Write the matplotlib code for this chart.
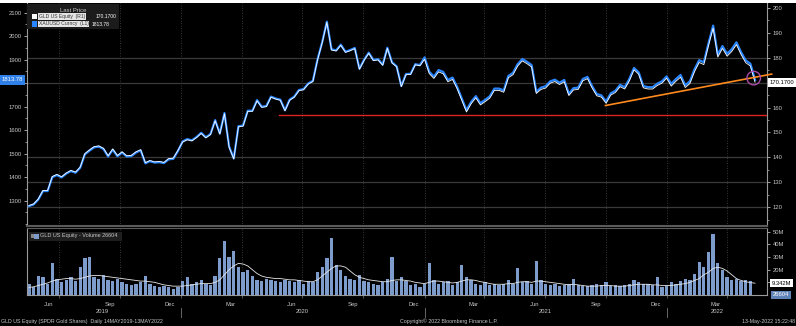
import numpy as np
import pandas as pd
import matplotlib
matplotlib.use('Agg')
import matplotlib.pyplot as plt
import matplotlib.dates as mdates
from matplotlib.patches import Rectangle
from matplotlib.ticker import MultipleLocator
from matplotlib.transforms import blended_transform_factory

plt.rcParams['font.family'] = ['Liberation Sans', 'DejaVu Sans']

# weekly (Friday) closes, XAUUSD spot
gold_2019 = [1277, 1284, 1305, 1341, 1341, 1400, 1409, 1399, 1415, 1426, 1419, 1440, 1497,
             1513, 1527, 1530, 1520, 1488, 1517, 1489, 1505, 1488, 1490, 1505, 1514, 1459,
             1468, 1462, 1464, 1460, 1476, 1478, 1511]
gold_2020 = [1552, 1562, 1557, 1571, 1589, 1570, 1584, 1643, 1586, 1673, 1530, 1480, 1617,
             1620, 1683, 1683, 1728, 1700, 1703, 1743, 1735, 1730, 1685, 1730, 1743, 1771,
             1775, 1799, 1810, 1902, 1975, 2062, 1944, 1940, 1964, 1934, 1941, 1950, 1862,
             1900, 1930, 1899, 1902, 1879, 1951, 1889, 1872, 1788, 1839, 1840, 1881, 1877]
gold_2021 = [1910, 1849, 1828, 1856, 1848, 1814, 1824, 1784, 1734, 1685, 1720, 1745, 1715,
             1729, 1744, 1777, 1777, 1769, 1831, 1844, 1881, 1903, 1891, 1877, 1764, 1781,
             1787, 1808, 1815, 1802, 1814, 1755, 1779, 1781, 1818, 1827, 1787, 1754, 1748,
             1722, 1757, 1768, 1793, 1783, 1818, 1865, 1846, 1788, 1783, 1783, 1798, 1808, 1829]
gold_2022 = [1797, 1818, 1835, 1791, 1808, 1859, 1898, 1889, 1970, 2045, 1921, 1958, 1925,
             1945, 1974, 1932, 1897, 1883, 1813.78]

# weekly closes, GLD US Equity
gld_2019 = [120.70, 121.36, 123.35, 126.75, 126.75, 132.33, 133.18, 132.23, 133.75, 134.79,
            134.12, 136.11, 141.50, 143.01, 144.33, 144.61, 143.67, 140.65, 143.39, 140.74,
            142.25, 140.65, 140.83, 142.25, 143.10, 137.90, 138.76, 138.19, 138.38, 138.00,
            139.51, 139.70, 142.82]
gld_2020 = [146.14, 147.08, 146.61, 147.93, 149.62, 147.83, 149.15, 154.71, 149.34, 157.53,
            144.06, 139.36, 152.26, 152.54, 158.47, 158.47, 162.71, 160.07, 160.35, 164.12,
            163.37, 162.90, 158.66, 162.90, 164.12, 166.76, 167.13, 169.39, 170.43, 179.09,
            185.97, 194.16, 183.05, 182.67, 184.93, 182.10, 182.76, 183.61, 175.33, 178.90,
            181.73, 178.81, 179.09, 176.93, 183.71, 177.87, 176.27, 168.36, 173.16, 173.25,
            177.12, 176.74]
gld_2021 = [179.35, 173.62, 171.65, 174.28, 173.53, 170.33, 171.27, 167.52, 162.82, 158.22,
            161.51, 163.86, 161.04, 162.35, 163.76, 166.86, 166.86, 166.11, 171.93, 173.15,
            176.63, 178.69, 177.57, 176.25, 165.64, 167.24, 167.80, 169.77, 170.43, 169.21,
            170.33, 164.79, 167.05, 167.24, 170.71, 171.56, 167.80, 164.70, 164.14, 161.70,
            164.98, 166.02, 168.36, 167.42, 170.71, 175.12, 173.34, 167.89, 167.42, 167.42,
            168.83, 169.77, 171.74]
gld_2022 = [168.57, 170.55, 172.14, 168.01, 169.61, 174.40, 178.05, 177.21, 184.81, 191.84,
            180.21, 183.68, 180.58, 182.46, 185.18, 181.24, 177.96, 176.65, 170.17]

# GLD volume, millions of shares
vol_2019 = [9, 6, 15, 14, 9, 25, 13, 10, 12, 14, 11, 22, 29, 30, 14, 13, 16, 12, 11, 13, 10,
            9, 8, 9, 10, 15, 9, 7, 6, 7, 6, 5, 6]
vol_2020 = [11, 14, 9, 10, 12, 9, 8, 15, 29, 43, 30, 35, 22, 18, 20, 15, 12, 11, 13, 12, 11,
            10, 12, 11, 10, 12, 9, 11, 10, 18, 22, 29, 45, 24, 20, 15, 13, 12, 16, 11, 10, 9,
            8, 10, 13, 30, 11, 14, 11, 8, 9, 6]
vol_2021 = [9, 25, 12, 9, 10, 11, 8, 10, 24, 14, 12, 9, 8, 10, 8, 9, 8, 9, 12, 9, 21, 10, 11,
            9, 27, 12, 9, 8, 9, 7, 8, 9, 13, 8, 7, 7, 8, 9, 8, 10, 7, 8, 7, 8, 9, 12, 10, 9, 9,
            8, 14, 6, 7]
vol_2022 = [10, 9, 11, 13, 12, 17, 26, 22, 34, 48, 25, 20, 14, 12, 13, 11, 12, 11, 0.026604]

# volume moving average, millions
ma_2019 = [6, 6.5, 7.5, 8.5, 9.5, 11, 12, 12.5, 13, 13, 12.5, 13, 14, 15, 15.5, 15.5, 15, 14.5,
           14, 13.5, 13, 12.5, 12, 11.5, 11, 11, 10.5, 10, 9, 8, 7.5, 7, 7]
ma_2020 = [7, 7.5, 8, 8.5, 9, 9, 9, 10, 12, 16, 20, 23, 25, 24.5, 23, 20, 17, 15, 14, 13.5, 13,
           13, 12.5, 12, 12, 11.5, 11, 10.5, 10.5, 12, 15, 18, 21, 23, 23, 22, 19, 16, 14, 13,
           12, 11.5, 11, 10.5, 10.5, 11.5, 12, 12, 11.5, 11, 10, 9.5]
ma_2021 = [9, 10, 11, 11, 10.5, 10, 9.5, 10, 11, 12, 12, 11.5, 10.5, 10, 9, 8.5, 8.5, 8.5, 9, 9,
           10, 10.5, 10.5, 10, 11, 11, 10.5, 10, 9.5, 9, 8.5, 8, 8.5, 8, 7.5, 7, 7, 7, 7.5, 7.5,
           7.5, 7, 7, 7, 7.5, 8, 8.5, 8.5, 8.5, 8, 8, 7.5, 7.5]
ma_2022 = [7.5, 8, 8.5, 9, 10, 11.5, 13, 16, 18, 21, 22, 21, 19, 16, 13, 11.5, 10.5, 9.8, 9.342]

# drawn annotations (GLD scale)
support_level = 157.1
support_from = '2020-05-27'
trend_dates = ['2021-09-30', '2022-06-07']
trend_values = [160.8, 173.4]
circle_date = '2022-05-11'
circle_value = 171.8

# axis ticks; labels hidden behind the last-value tags are left blank
gld_ticks = [120, 130, 140, 150, 160, 170, 180, 190, 200]
gld_labels = ['120', '130', '140', '150', '160', '', '180', '190', '200']
gold_ticks = [1300, 1400, 1500, 1600, 1700, 1800, 1900, 2000, 2100]
gold_labels = ['1300', '1400', '1500', '1600', '1700', '', '1900', '2000', '2100']
vol_ticks = [10, 20, 30, 40, 50]
vol_labels = ['', '20M', '30M', '40M', '50M']

weeks = pd.date_range('2019-05-17', '2022-05-13', freq='W-FRI')
gold = np.array(gold_2019 + gold_2020 + gold_2021 + gold_2022)
gld = np.array(gld_2019 + gld_2020 + gld_2021 + gld_2022)
vol = np.array(vol_2019 + vol_2020 + vol_2021 + vol_2022)
vol_ma = np.array(ma_2019 + ma_2020 + ma_2021 + ma_2022)

BLUE = '#2a86ff'
TXT = '#c8c8c8'
W, H = 796, 326


def box(x0, y0, x1, y1):
    return [x0 / W, 1 - y1 / H, (x1 - x0) / W, (y1 - y0) / H]


fig = plt.figure(figsize=(W / 100, H / 100), dpi=100, facecolor='black')
fig.patches.append(Rectangle((0, 1 - 3 / H), 1, 3 / H, transform=fig.transFigure,
                             fc='white', ec='none'))

ax = fig.add_axes(box(27, 3, 767, 226), facecolor='black')   # GLD scale, grid
axg = ax.twinx()                                               # gold scale
axw = ax.twinx()                                               # GLD line on top
axv = fig.add_axes(box(27, 228, 767, 295), facecolor='black')

x_start, x_end = pd.Timestamp('2019-05-14'), pd.Timestamp('2022-05-31')
for a in (ax, axg, axw, axv):
    a.set_xlim(x_start, x_end)
    a.tick_params(axis='x', which='both', length=0, labelbottom=False)
ax.set_ylim(112.5, 201.9)
axw.set_ylim(112.5, 201.9)
axg.set_ylim(1192.3, 2141.3)
axv.set_ylim(0, 53)

# grid
quarters = pd.date_range('2019-07-01', '2022-04-01', freq='QS')
for d in quarters:
    for a in (ax, axv):
        a.axvline(d, color='#4a4a4a', lw=0.6, ls=(0, (1, 2)), zorder=0)
for v in [120, 130, 140, 170, 180]:
    ax.axhline(v, color='#3a3a3a', lw=0.9, zorder=0)

# price lines
axg.plot(weeks, gold, color=BLUE, lw=1.6, zorder=3)
axw.plot(weeks, gld, color='white', lw=0.6, zorder=3)

axw.plot([pd.Timestamp(support_from), x_end], [support_level, support_level],
         color='#e02222', lw=1.0, zorder=2)
axw.plot(pd.to_datetime(trend_dates), trend_values, color='#ff8a1e', lw=1.2,
         zorder=4, clip_on=False)
axw.scatter([pd.Timestamp(circle_date)], [circle_value], s=95, facecolors='none',
            edgecolors='#a84aa8', linewidths=1, zorder=5)

# y axes
ax.yaxis.tick_right()
ax.set_yticks(gld_ticks)
ax.set_yticklabels(gld_labels)
ax.yaxis.set_minor_locator(MultipleLocator(5))
axg.yaxis.tick_left()
axg.set_yticks(gold_ticks)
axg.set_yticklabels(gold_labels)
axg.yaxis.set_minor_locator(MultipleLocator(50))
for a in (ax, axg):
    a.tick_params(axis='y', which='major', length=2.5, width=0.6, color='#bbbbbb',
                  labelsize=4.2, labelcolor=TXT, pad=1.5)
    a.tick_params(axis='y', which='minor', length=1.2, width=0.5, color='#bbbbbb')
axw.set_yticks([])
for a in (axg, axw):
    for s in a.spines.values():
        s.set_visible(False)
ax.spines['top'].set_visible(False)
ax.spines['left'].set_color('#9a9a9a')
ax.spines['right'].set_color('#9a9a9a')
ax.spines['bottom'].set_color('#5a5a5a')
ax.spines['bottom'].set_linewidth(1.5)

# volume panel
axv.bar(weeks, vol, width=5, color='#7d9bcb', lw=0, zorder=2)
axv.plot(weeks, vol_ma, color='#e6e6e6', lw=0.6, zorder=3)
axv.yaxis.tick_right()
axv.set_yticks(vol_ticks)
axv.set_yticklabels(vol_labels)
axv.tick_params(axis='y', length=2.5, width=0.6, color='#bbbbbb', labelsize=4.2,
                labelcolor=TXT, pad=1.5)
axv.xaxis.set_major_locator(mdates.MonthLocator(bymonth=[3, 6, 9, 12], bymonthday=15))
axv.xaxis.set_major_formatter(mdates.DateFormatter('%b'))
axv.xaxis.set_minor_locator(mdates.MonthLocator(bymonth=[1, 4, 7, 10]))
axv.tick_params(axis='x', which='major', length=0, labelbottom=True, labelsize=4.2,
                labelcolor=TXT, pad=5)
axv.tick_params(axis='x', which='minor', length=2, width=0.5, color='#777777')
axv.spines['top'].set_color('#5a5a5a')
axv.spines['left'].set_color('#9a9a9a')
axv.spines['right'].set_color('#9a9a9a')
axv.spines['bottom'].set_color('#9a9a9a')

tv = blended_transform_factory(axv.transData, axv.transAxes)
for yr, mid in [('2019', '2019-09-05'), ('2020', '2020-07-01'),
                ('2021', '2021-07-02'), ('2022', '2022-03-17')]:
    axv.text(pd.Timestamp(mid), -0.25, yr, transform=tv, ha='center', va='center',
             fontsize=4.2, color=TXT)
for yr_start in ['2020-01-01', '2021-01-01', '2022-01-01']:
    axv.plot([pd.Timestamp(yr_start)] * 2, [-0.19, -0.33], transform=tv,
             color='#777777', lw=0.6, clip_on=False)

# last value tags
tl = blended_transform_factory(fig.transFigure, axg.transData)
axg.text(12.5 / W, gold[-1], f'{gold[-1]:.2f}', transform=tl, ha='center', va='center',
         fontsize=4.2, color='white',
         bbox=dict(boxstyle='square,pad=0.35', fc='#2f80e8', ec='none'))
tr = blended_transform_factory(fig.transFigure, ax.transData)
ax.text(782 / W, gld[-1], f'{gld[-1]:.4f}', transform=tr, ha='center', va='center',
        fontsize=4.2, color='black',
        bbox=dict(boxstyle='square,pad=0.35', fc='white', ec='none'))
tvr = blended_transform_factory(fig.transFigure, axv.transData)
axv.text(781 / W, vol_ma[-1], f'{vol_ma[-1]:.3f}M', transform=tvr, ha='center',
         va='center', fontsize=4.2, color='black',
         bbox=dict(boxstyle='square,pad=0.3', fc='white', ec='none'))
axv.text(781 / W, 0, f'{vol[-1] * 1e6:.0f}', transform=tvr, ha='center',
         va='center', fontsize=4.2, color='white',
         bbox=dict(boxstyle='square,pad=0.3', fc='#5f82b8', ec='none'))

# legends
fig.patches.append(Rectangle((27 / W, 1 - 29 / H), 92 / W, 25 / H,
                             transform=fig.transFigure, fc='#1b1b1b', ec='none', zorder=5))
fig.text(73 / W, 1 - 10.5 / H, 'Last Price', ha='center', va='center', fontsize=4.2,
         color=TXT, zorder=6)
rows = [('white', 'GLD US Equity  (R1)', f'{gld[-1]:.4f}', 16.5, 96),
        (BLUE, 'XAUUSD Curncy  (L1)', f'{gold[-1]:.2f}', 24, 92)]
for col, name, val, yy, xv in rows:
    fig.patches.append(Rectangle((32 / W, 1 - (yy + 2.5) / H), 5 / W, 5 / H,
                                 transform=fig.transFigure, fc=col, ec='none', zorder=6))
    fig.text(39 / W, 1 - yy / H, name, ha='left', va='center', fontsize=3.6,
             color='#333333', zorder=6,
             bbox=dict(boxstyle='square,pad=0.12', fc='#e4e4e4', ec='none'))
    fig.text(xv / W, 1 - yy / H, val, ha='left', va='center', fontsize=3.6,
             color='white', zorder=6)

fig.patches.append(Rectangle((29 / W, 1 - 240.5 / H), 93 / W, 9 / H,
                             transform=fig.transFigure, fc='#1e1e1e', ec='none', zorder=5))
fig.patches.append(Rectangle((31 / W, 1 - 238 / H), 2.5 / W, 4 / H,
                             transform=fig.transFigure, fc='#888888', ec='none', zorder=6))
fig.patches.append(Rectangle((34 / W, 1 - 238.5 / H), 4.5 / W, 5 / H,
                             transform=fig.transFigure, fc='#7d9bcb', ec='none', zorder=6))
fig.text(40 / W, 1 - 236 / H, f'GLD US Equity - Volume {vol[-1] * 1e6:.0f}', ha='left',
         va='center', fontsize=4.0, color=TXT, zorder=6)

# footer
fig.text(1 / W, 1 - 321 / H,
         'GLD US Equity (SPDR Gold Shares)  Daily 14MAY2019-13MAY2022',
         ha='left', va='center', fontsize=3.8, color=TXT)
fig.text(400 / W, 1 - 321 / H, 'Copyright\u00a9 2022 Bloomberg Finance L.P.',
         ha='left', va='center', fontsize=3.8, color=TXT)
fig.text(795 / W, 1 - 321 / H, '13-May-2022 15:22:48', ha='right', va='center',
         fontsize=3.8, color=TXT)

fig.savefig('out.png', dpi=100, facecolor='black')
